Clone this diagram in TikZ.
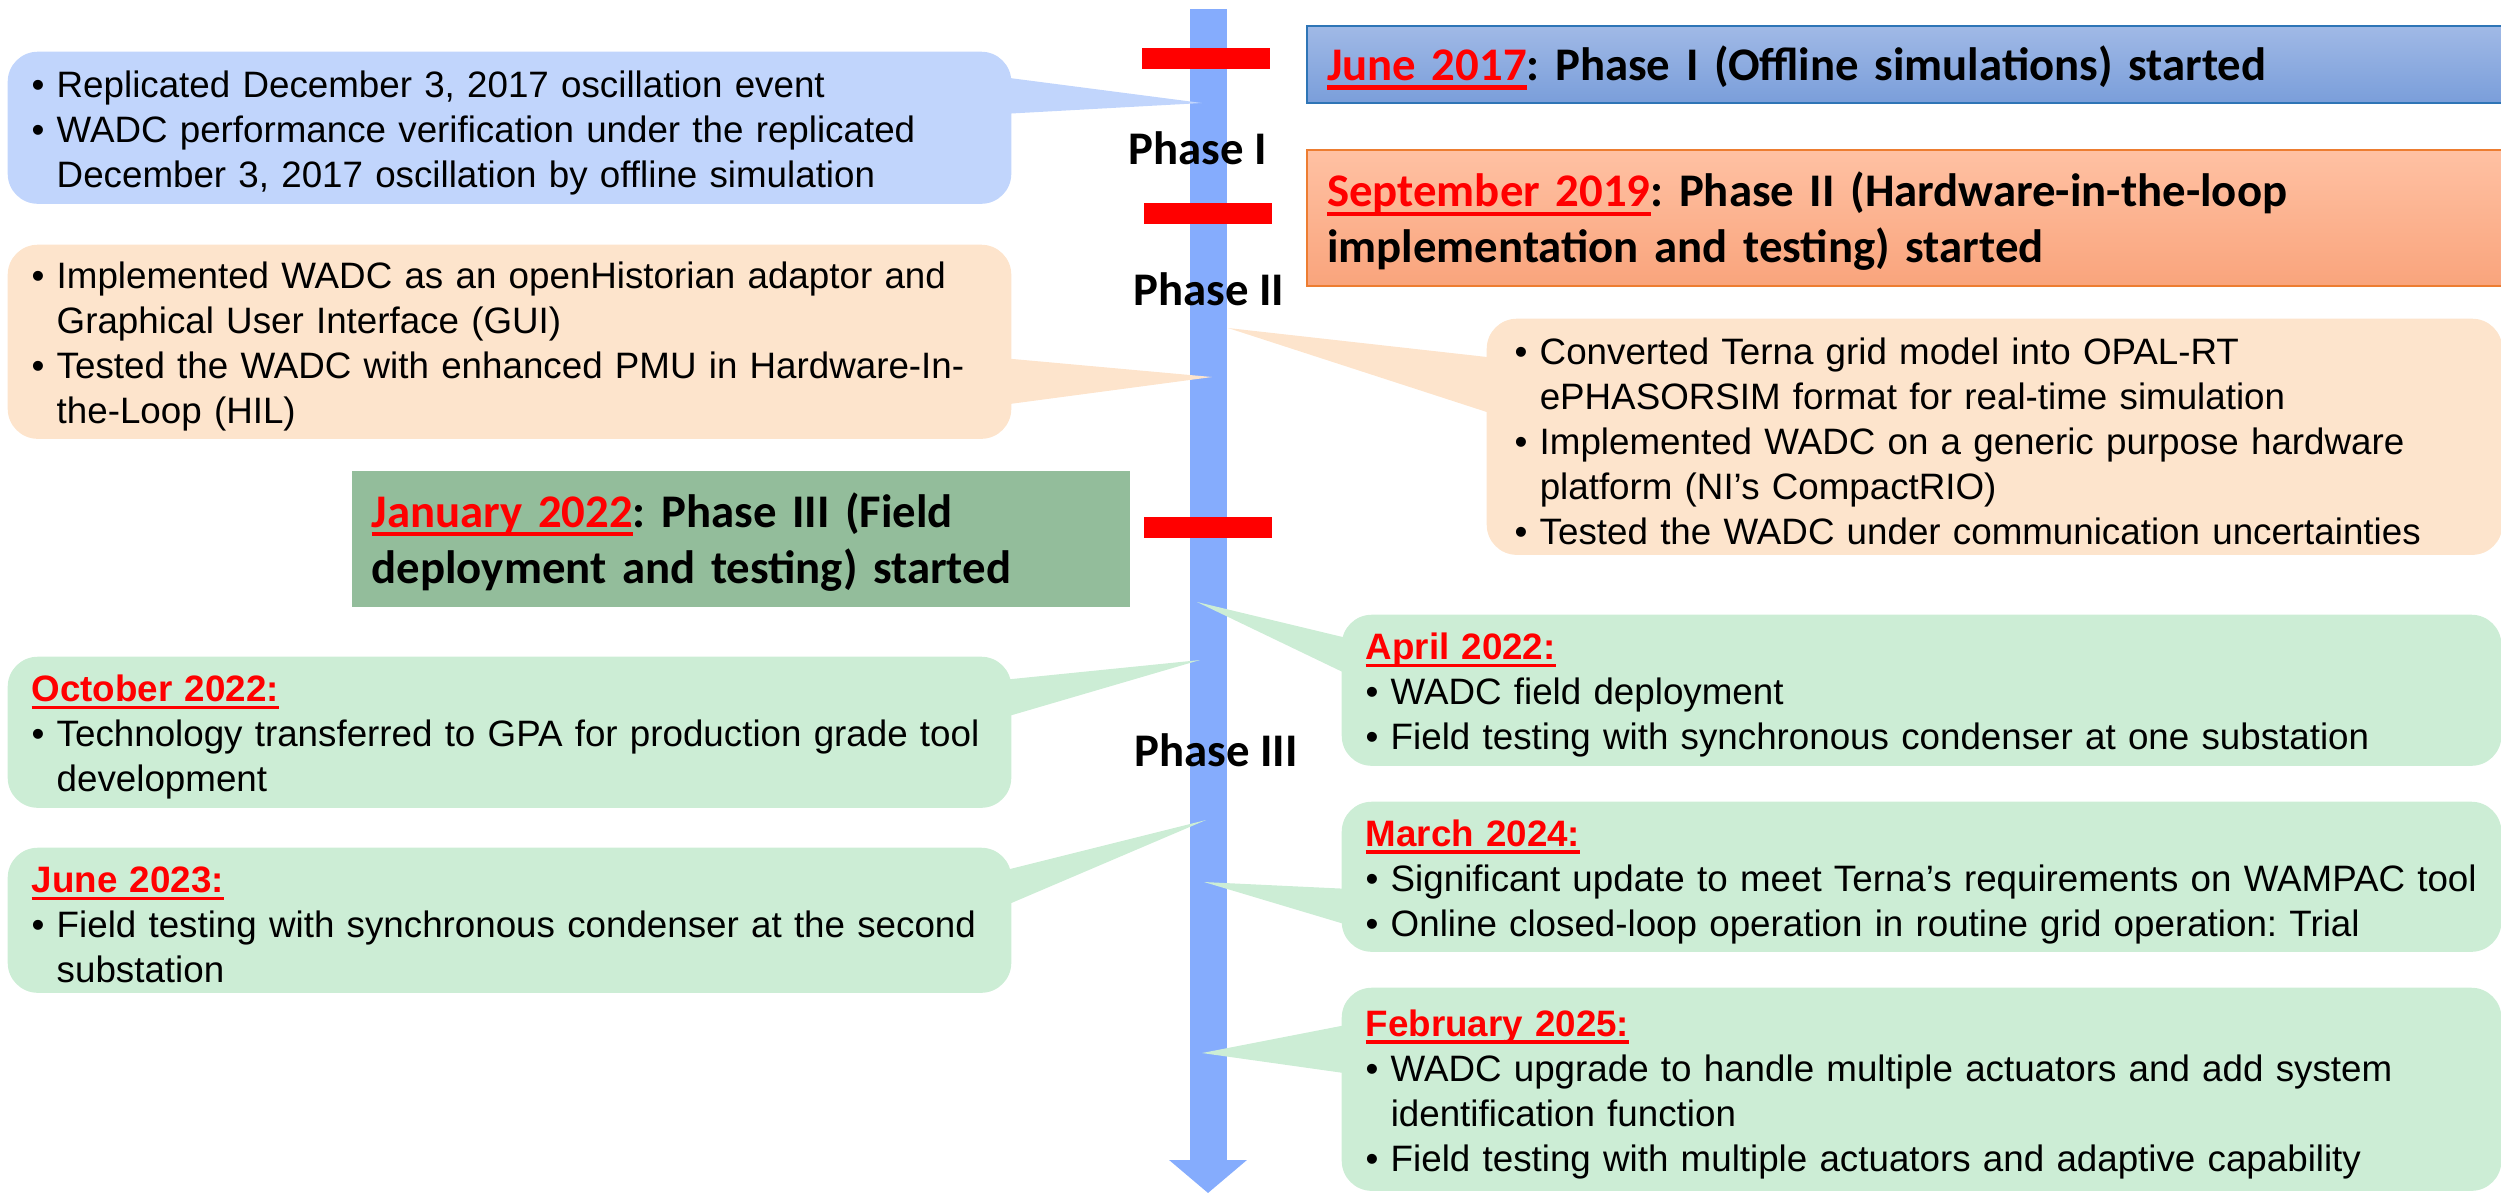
\documentclass[tikz,border=0pt]{standalone}
\usepackage{fontspec}
\setmainfont{Liberation Sans}
\newfontfamily\headfont{Carlito}
\usetikzlibrary{arrows.meta,calc}
\frenchspacing

\definecolor{lineblue}{RGB}{133,172,253}
\definecolor{markred}{RGB}{255,0,0}
\definecolor{fillblue}{RGB}{193,213,252}
\definecolor{fillpeach}{RGB}{253,228,204}
\definecolor{fillgreen}{RGB}{204,237,213}
\definecolor{fillsage}{RGB}{147,189,155}
\definecolor{topblue}{RGB}{160,185,230}
\definecolor{botblue}{RGB}{122,158,218}
\definecolor{edgeblue}{RGB}{46,117,182}
\definecolor{topsalmon}{RGB}{255,193,163}
\definecolor{botsalmon}{RGB}{249,164,124}
\definecolor{edgeorange}{RGB}{237,125,49}

\newlength{\bulind}
\setlength{\bulind}{0.25cm}
\newcommand{\bul}{\hangindent=\bulind\hangafter=1\makebox[\bulind][l]{\textbullet}}
\newcommand{\fin}{\par\kern-0.1cm}
\newcommand{\hfin}{\par\kern-0.06cm}
\newcommand{\udate}[1]{{\color{markred}\setbox0=\hbox{#1}\rlap{\rule[-0.2em]{\wd0}{0.09em}}\box0}}

\tikzstyle{note} = [rectangle, rounded corners=0.3cm, inner ysep=0pt, align=left, anchor=north west, font=\fontsize{10.45}{12.8}\selectfont]
\tikzstyle{lnote} = [note, text width=9.55cm, inner xsep=0.24cm]
\tikzstyle{rnote} = [note, text width=11.11cm, inner xsep=0.24cm]
\tikzstyle{head} = [rectangle, inner xsep=0.2cm, inner ysep=0pt, align=left, anchor=north west, text width=11.55cm, font=\headfont\bfseries\fontsize{13.3}{16}\selectfont]
\tikzstyle{phase} = [inner sep=0pt, font=\headfont\bfseries\fontsize{13.3}{16}\selectfont]
\tikzstyle{redbar} = [rectangle, fill=markred, inner sep=0pt, minimum width=1.28cm, minimum height=0.21cm]

\begin{document}
\begin{tikzpicture}[x=0.01cm, y=-0.01cm]
\useasboundingbox (0,0) rectangle (2501,1193);

\coordinate (top) at (1208,9);
\coordinate (bottom) at (1208,1193);
\draw[lineblue, line width=0.37cm, -{Triangle[length=0.33cm,width=0.76cm]}] (top) -- (bottom);

\node[redbar] (m1) at (1206,58.5) {};
\node[redbar] (m2) at (1208,213.5) {};
\node[redbar] (m3) at (1208,527.5) {};

\node[head, top color=topblue, bottom color=botblue, draw=edgeblue, line width=0.6pt, minimum height=0.77cm] (h1) at (1306,25)
  {\udate{June 2017}: Phase I (Offline simulations) started\hfin};
\node[head, top color=topsalmon, bottom color=botsalmon, draw=edgeorange, line width=0.6pt, minimum height=1.36cm] (h2) at (1306,149)
  {\udate{September 2019}: Phase II (Hardware-in-the-loop\newline implementation and testing) started\hfin};
\node[head, fill=fillsage, text width=7.38cm, minimum height=1.36cm] (h3) at (351,470)
  {\udate{January 2022}: Phase III (Field\newline deployment and testing) started\hfin};

\node[lnote, fill=fillblue, minimum height=1.52cm] (c1) at (7,51)
  {\bul Replicated December 3, 2017 oscillation event\par
   \bul WADC performance verification under the replicated\newline December 3, 2017 oscillation by offline simulation\fin};
\node[lnote, fill=fillpeach, minimum height=1.94cm] (c2) at (7,244)
  {\bul Implemented WADC as an openHistorian adaptor and\newline Graphical User Interface (GUI)\par
   \bul Tested the WADC with enhanced PMU in Hardware-In-\newline the-Loop (HIL)\fin};
\node[note, fill=fillpeach, text width=9.59cm, inner xsep=0.28cm, minimum height=2.36cm] (c3) at (1486,318)
  {\bul Converted Terna grid model into OPAL-RT\newline ePHASORSIM format for real-time simulation\par
   \bul Implemented WADC on a generic purpose hardware\newline platform (NI’s CompactRIO)\par
   \bul Tested the WADC under communication uncertainties\fin};
\node[rnote, fill=fillgreen, minimum height=1.51cm] (c4) at (1341,614)
  {\udate{\bfseries April 2022:}\par
   \bul WADC field deployment\par
   \bul Field testing with synchronous condenser at one substation\fin};
\node[rnote, fill=fillgreen, minimum height=1.50cm] (c5) at (1341,801)
  {\udate{\bfseries March 2024:}\par
   \bul Significant update to meet Terna’s requirements on WAMPAC tool\par
   \bul Online closed-loop operation in routine grid operation: Trial\fin};
\node[lnote, fill=fillgreen, minimum height=1.51cm] (c6) at (7,656)
  {\udate{\bfseries October 2022:}\par
   \bul Technology transferred to GPA for production grade tool\newline development\fin};
\node[lnote, fill=fillgreen, minimum height=1.45cm] (c7) at (7,847)
  {\udate{\bfseries June 2023:}\par
   \bul Field testing with synchronous condenser at the second\newline substation\fin};
\node[rnote, fill=fillgreen, minimum height=2.03cm] (c8) at (1341,987)
  {\udate{\bfseries February 2025:}\par
   \bul WADC upgrade to handle multiple actuators and add system\newline identification function\par
   \bul Field testing with multiple actuators and adaptive capability\fin};

\coordinate (t1) at (1202,103);
\coordinate (t2) at (1212,377);
\coordinate (t3) at (1228,328);
\coordinate (t4) at (1197,602);
\coordinate (t5) at (1204,882);
\coordinate (t6) at (1200,660);
\coordinate (t7) at (1206,820);
\coordinate (t8) at (1202,1053);

\fill[fillblue] ($(c1.east |- 0,77)+(-10,0)$) -- (t1) -- ($(c1.east |- 0,114)+(-10,0)$) -- cycle;
\fill[fillpeach] ($(c2.east |- 0,358)+(-10,0)$) -- (t2) -- ($(c2.east |- 0,405)+(-10,0)$) -- cycle;
\fill[fillpeach] ($(c3.west |- 0,358)+(10,0)$) -- (t3) -- ($(c3.west |- 0,415)+(10,0)$) -- cycle;
\fill[fillgreen] ($(c4.west |- 0,639)+(10,0)$) -- (t4) -- ($(c4.west |- 0,676)+(10,0)$) -- cycle;
\fill[fillgreen] ($(c5.west |- 0,889)+(10,0)$) -- (t5) -- ($(c5.west |- 0,926)+(10,0)$) -- cycle;
\fill[fillgreen] ($(c6.east |- 0,680)+(-10,0)$) -- (t6) -- ($(c6.east |- 0,718)+(-10,0)$) -- cycle;
\fill[fillgreen] ($(c7.east |- 0,871)+(-10,0)$) -- (t7) -- ($(c7.east |- 0,907)+(-10,0)$) -- cycle;
\fill[fillgreen] ($(c8.west |- 0,1024)+(10,0)$) -- (t8) -- ($(c8.west |- 0,1074)+(10,0)$) -- cycle;

\node[phase] (ph1) at (1198,148) {Phase I};
\node[phase] (ph2) at (1209,289) {Phase II};
\node[phase] (ph3) at (1216,750) {Phase III};

\end{tikzpicture}
\end{document}
